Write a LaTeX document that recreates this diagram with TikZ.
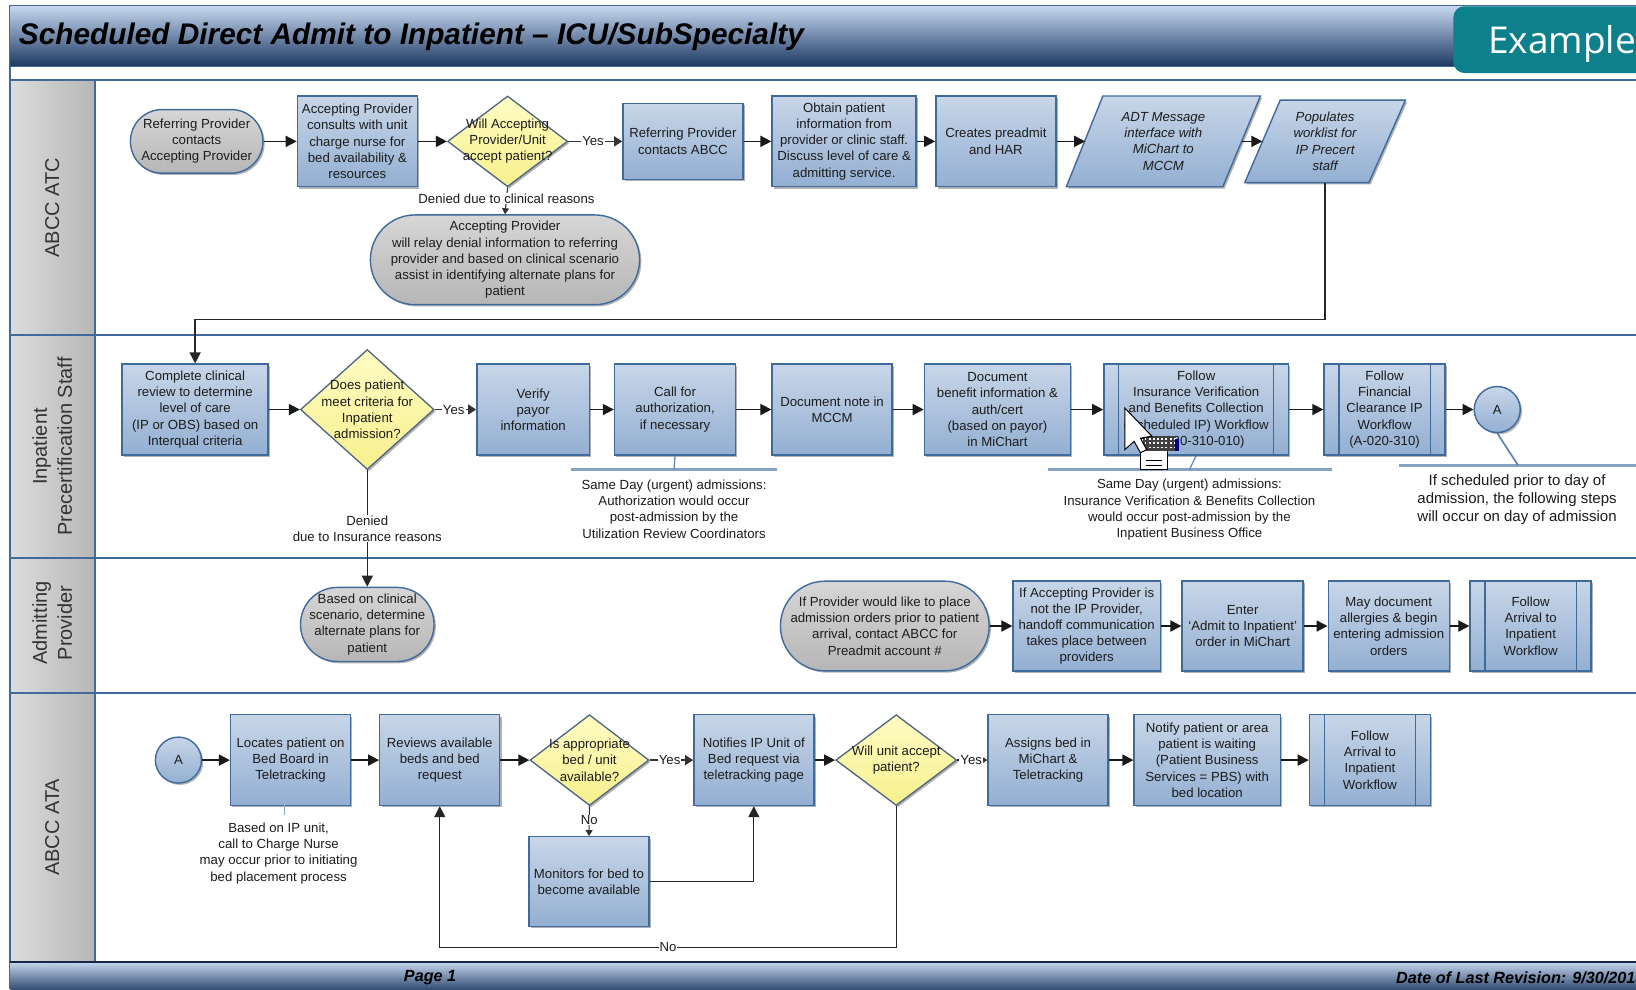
\documentclass[tikz,border=0pt]{standalone}
\usepackage{fontspec}
\setmainfont{Liberation Sans}
\newfontfamily\badgefont{Open Sans}
\usetikzlibrary{arrows.meta,shadows,shapes.geometric}
\definecolor{laneblue}{HTML}{3F6A9C}
\definecolor{boxT}{HTML}{C8D6E8}
\definecolor{boxB}{HTML}{93AFD2}
\definecolor{barT}{HTML}{C5D7EF}
\definecolor{barB}{HTML}{1E3A64}
\definecolor{grayT}{HTML}{D6D6D6}
\definecolor{grayB}{HTML}{B6B6B6}
\definecolor{yelT}{HTML}{FFFCC4}
\definecolor{yelB}{HTML}{F6F08C}
\definecolor{teal}{HTML}{0E808C}
\definecolor{inktext}{HTML}{1C1C1C}
\definecolor{annot}{HTML}{86A3C6}
\tikzset{
  shad/.style={drop shadow={shadow xshift=1.8pt,shadow yshift=-1.8pt,opacity=.3,fill=black}},
  txt/.style={font=\fontsize{13.2}{16.2}\selectfont,text=inktext,align=center,inner sep=0pt},
  bigtxt/.style={font=\fontsize{15}{17.8}\selectfont,text=inktext,align=center,inner sep=0pt},
  procbox/.style={shad,draw=laneblue,line width=1.4pt,top color=boxT,bottom color=boxB,txt,rectangle},
  stadbox/.style={shad,draw=laneblue,line width=1.4pt,top color=grayT,bottom color=grayB,txt,rectangle},
  diabox/.style={shad,draw=laneblue!70!black!85,line width=1.3pt,top color=yelT,bottom color=yelB,diamond,inner sep=0pt},
  circbox/.style={shad,draw=laneblue,line width=1.4pt,top color=boxT,bottom color=boxB,circle,txt},
  parabox/.style={shad,draw=laneblue,line width=1.4pt,top color=boxT,bottom color=boxB},
  flow/.style={draw=black!90,line width=1.7pt,-{Triangle[length=11pt,width=11pt]}},
  longflow/.style={draw=black!85,line width=1.3pt,-{Triangle[length=11pt,width=11pt]}},
  yesflow/.style={draw=black!80,line width=1.3pt,-{Triangle[length=8pt,width=10pt]}},
  tinyflow/.style={draw=black!80,line width=1.1pt,-{Triangle[length=6pt,width=7pt]}},
  lab/.style={txt,fill=white,inner xsep=1pt,inner ysep=0.5pt},
  annotline/.style={draw=annot,line width=2.4pt},
  annottick/.style={draw=laneblue!80,line width=1.3pt},
  lanehead/.style={font=\fontsize{20}{25}\selectfont,text=black!80,rotate=90,align=center,inner sep=0pt},
  laneline/.style={draw=laneblue,line width=2pt},
  barfont/.style={font=\fontsize{16.2}{18}\selectfont\bfseries\itshape,text=black,inner sep=0pt},
}
\newcommand{\procnode}[6]{%
  \pgfmathsetmacro\nw{(#4-#2)*1.0434}\pgfmathsetmacro\nh{(#5-#3)*1.0434}%
  \node[procbox,minimum width=\nw pt,minimum height=\nh pt] (#1) at ({(#2+#4)/2},{(#3+#5)/2}) {#6};}
\newcommand{\subnode}[6]{%
  \procnode{#1}{#2}{#3}{#4}{#5}{#6}%
  \draw[laneblue,line width=1.3pt] ([xshift=15.6pt]#1.north west) -- ([xshift=15.6pt]#1.south west)
    ([xshift=-15.6pt]#1.north east) -- ([xshift=-15.6pt]#1.south east);}
\newcommand{\stadnode}[6]{%
  \pgfmathsetmacro\nw{(#4-#2)*1.0434}\pgfmathsetmacro\nh{(#5-#3)*1.0434}\pgfmathsetmacro\nr{\nh/2-0.1}%
  \node[stadbox,rounded corners=\nr pt,minimum width=\nw pt,minimum height=\nh pt] (#1) at ({(#2+#4)/2},{(#3+#5)/2}) {#6};}
\newcommand{\dianode}[6]{%
  \pgfmathsetmacro\nw{(#4-#2)*1.0434}\pgfmathsetmacro\nh{(#5-#3)*1.0434}%
  \node[diabox,minimum width=\nw pt,minimum height=\nh pt] (#1) at ({(#2+#4)/2},{(#3+#5)/2}) {};
  \node[txt] (#1t) at (#1) {#6};}
\begin{document}
\begin{tikzpicture}[x=1.0434pt,y=-1.0434pt]
\path[use as bounding box,clip] (0,0) rectangle (1568,948);
\fill[white] (0,0) rectangle (1568,948);
% lane headers
\shade[left color=grayT!85!white,right color=grayB] (10,77) rectangle (91,921);
\draw[laneline] (91,77) -- (91,921);
\foreach \yy in {77,321,535,664} \draw[laneline] (10,\yy) -- (1568,\yy);
\draw[laneline] (10,5) -- (10,948);
% header and footer bars
\shade[top color=barT,bottom color=barB] (10,6) rectangle (1568,63);
\draw[laneblue,line width=1.5pt] (10,5.5) -- (1568,5.5) (10,63.5) -- (1568,63.5);
\shade[top color=barT,bottom color=barB!90!white] (10,922) rectangle (1568,948);
\draw[barB!70!black,line width=1.8pt] (10,922) -- (1568,922);
\node[anchor=west,font=\fontsize{29.8}{32}\selectfont\bfseries\itshape,text=black,inner sep=0pt] (title) at (18,35) {Scheduled Direct Admit to Inpatient – ICU/SubSpecialty};
\fill[teal,rounded corners=11pt] (1393,6) rectangle (1620,70);
\node[anchor=west,font=\fontsize{37}{40}\badgefont,text=white,inner sep=0pt] (badge) at (1426,42) {Example};
\node[barfont,anchor=west] (page) at (387,937) {Page 1};
\node[barfont,anchor=west] (date) at (1338,937) {Date of Last Revision: 9/30/2013};
% lane names
\node[lanehead] (l1) at (50,199) {ABCC ATC};
\node[lanehead] (l2) at (50,428) {Inpatient\\Precertification Staff};
\node[lanehead] (l3) at (50,597) {Admitting\\Provider};
\node[lanehead] (l4) at (50,793) {ABCC ATA};
% lane 1
\stadnode{s1}{125}{105}{252}{166}{Referring Provider\\contacts\\Accepting Provider}
\procnode{b2}{285}{92}{400}{179}{Accepting Provider\\consults with unit\\charge nurse for\\bed availability \&\\resources}
\dianode{d3}{429}{92}{544}{179}{Will Accepting\\Provider/Unit\\accept patient?}
\procnode{b4}{597}{99}{712}{172}{Referring Provider\\contacts ABCC}
\procnode{b5}{740}{92}{878}{179}{Obtain patient\\information from\\provider or clinic staff.\\Discuss level of care \&\\admitting service.}
\procnode{b6}{897}{92}{1012}{179}{Creates preadmit\\and HAR}
\path[parabox] (1057,92) -- (1208,92) -- (1172,179) -- (1022,179) -- cycle;
\node[txt,font=\fontsize{13.2}{16.2}\selectfont\itshape,minimum width=156pt,minimum height=90.8pt] (p7) at (1115,135.5) {ADT Message\\interface with\\MiChart to\\MCCM};
\path[parabox] (1227,96) -- (1347,96) -- (1312,175) -- (1193,175) -- cycle;
\node[txt,font=\fontsize{13.2}{16.2}\selectfont\itshape,minimum width=125pt,minimum height=82.4pt] (p8) at (1270,135.5) {Populates\\worklist for\\IP Precert\\staff};
\stadnode{s9}{355}{206}{613}{292}{Accepting Provider\\will relay denial information to referring\\provider and based on clinical scenario\\assist in identifying alternate plans for\\patient}
% lane 2
\procnode{b10}{117}{349}{257}{436}{Complete clinical\\review to determine\\level of care\\(IP or OBS) based on\\Interqual criteria}
\dianode{d11}{288}{335}{416}{450}{Does patient\\meet criteria for\\Inpatient\\admission?}
\procnode{b12}{457}{349}{565}{436}{Verify\\payor\\information}
\procnode{b13}{589}{349}{705}{436}{Call for\\authorization,\\if necessary}
\procnode{b14}{740}{349}{855}{436}{Document note in\\MCCM}
\procnode{b15}{886}{349}{1026}{436}{Document\\benefit information \&\\auth/cert\\(based on payor)\\in MiChart}
\subnode{b16}{1058}{349}{1235}{436}{Follow\\Insurance Verification\\and Benefits Collection\\(Scheduled IP) Workflow\\(A-020-310-010)}
\subnode{b17}{1269}{349}{1385}{436}{Follow\\Financial\\Clearance IP\\Workflow\\(A-020-310)}
\node[circbox,minimum size=46pt] (c18) at (1435,392.5) {A};
% lane 3
\stadnode{s19}{288}{563}{416}{634}{Based on clinical\\scenario, determine\\alternate plans for\\patient}
\stadnode{s20}{748}{557}{948}{643}{If Provider would like to place\\admission orders prior to patient\\arrival, contact ABCC for\\Preadmit account \#}
\procnode{b21}{971}{557}{1112}{643}{If Accepting Provider is\\not the IP Provider,\\handoff communication\\takes place between\\providers}
\procnode{b22}{1133}{557}{1249}{643}{Enter\\‘Admit to Inpatient’\\order in MiChart}
\procnode{b23}{1273}{557}{1389}{643}{May document\\allergies \& begin\\entering admission\\orders}
\subnode{b24}{1409}{557}{1525}{643}{Follow\\Arrival to\\Inpatient\\Workflow}
% lane 4
\node[circbox,minimum size=46pt] (c25) at (171,728.5) {A};
\procnode{b26}{221}{685}{336}{772}{Locates patient on\\Bed Board in\\Teletracking}
\procnode{b27}{364}{685}{479}{772}{Reviews available\\beds and bed\\request}
\dianode{d28}{508}{685}{622}{772}{Is appropriate\\bed / unit\\available?}
\procnode{b29}{665}{685}{780}{772}{Notifies IP Unit of\\Bed request via\\teletracking page}
\dianode{d30}{801}{685}{917}{772}{Will unit accept\\patient?}
\procnode{b31}{947}{685}{1062}{772}{Assigns bed in\\MiChart \&\\Teletracking}
\procnode{b32}{1087}{685}{1227}{772}{Notify patient or area\\patient is waiting\\(Patient Business\\Services = PBS) with\\bed location}
\subnode{b33}{1255}{685}{1371}{772}{Follow\\Arrival to\\Inpatient\\Workflow}
\procnode{b34}{507}{802}{622}{888}{Monitors for bed to\\become available}
% connectors lane 1
\draw[flow] (s1) -- (b2);
\draw[flow] (b2) -- (d3);
\draw[yesflow] (d3) -- node[lab,pos=.46]{Yes} (b4);
\draw[flow] (b4) -- (b5);
\draw[flow] (b5) -- (b6);
\draw[flow] (b6.east) -- (p7.west);
\draw[flow] (p7.east) -- (p8.west);
\draw[tinyflow] (d3.south) -- node[lab,pos=.42]{Denied due to clinical reasons} (s9.north);
\coordinate (bendA) at (1270,306);
\coordinate (bendB) at (187,306);
\draw[longflow] (p8.south) -- (bendA) -- (bendB) -- (b10.north);
% connectors lane 2
\draw[flow] (b10) -- (d11);
\draw[yesflow] (d11) -- node[lab,pos=.46]{Yes} (b12);
\draw[flow] (b12) -- (b13);
\draw[flow] (b13) -- (b14);
\draw[flow] (b14) -- (b15);
\draw[flow] (b15) -- (b16);
\draw[flow] (b16) -- (b17);
\draw[flow] (b17) -- (c18);
\draw[longflow] (d11.south) -- node[lab]{Denied\\due to Insurance reasons} (s19.north);
% connectors lane 3
\draw[flow] (s20) -- (b21);
\draw[flow] (b21) -- (b22);
\draw[flow] (b22) -- (b23);
\draw[flow] (b23) -- (b24);
% connectors lane 4
\draw[flow] (c25) -- (b26);
\draw[flow] (b26) -- (b27);
\draw[flow] (b27) -- (d28);
\draw[yesflow] (d28) -- node[lab,pos=.46]{Yes} (b29);
\draw[flow] (b29) -- (d30);
\draw[yesflow] (d30) -- node[lab,pos=.46]{Yes} (b31);
\draw[flow] (b31) -- (b32);
\draw[flow] (b32) -- (b33);
\draw[tinyflow] (d28.south) -- node[lab,pos=.47]{No} (b34.north);
\draw[longflow] (b34.east) -| (b29.south);
\coordinate (bendC) at (d30.south |- 0,908);
\coordinate (bendD) at (b27.south |- 0,908);
\draw[longflow] (d30.south) -- (bendC) -- node[lab]{No} (bendD) -- (b27.south);
% annotations
\coordinate (an13a) at (547,450); \coordinate (an13b) at (745,450); \coordinate (an13c) at (646,450);
\draw[annotline] (an13a) -- (an13b);
\draw[annottick] (b13.south) -- (an13c);
\node[txt] (n13) at (646,488) {Same Day (urgent) admissions:\\Authorization would occur\\post-admission by the\\Utilization Review Coordinators};
\coordinate (an16a) at (1004,450); \coordinate (an16b) at (1277,450); \coordinate (an16c) at (1140,450);
\draw[annotline] (an16a) -- (an16b);
\draw[annottick] (b16.south) -- (an16c);
\node[txt] (n16) at (1140,488.5) {Same Day (urgent) admissions:\\Insurance Verification \& Benefits Collection\\would occur post-admission by the\\Inpatient Business Office};
\coordinate (an18a) at (1341,446); \coordinate (an18b) at (1568,446); \coordinate (an18c) at (1455,446);
\draw[annotline] (an18a) -- (an18b);
\draw[laneblue!85,line width=1.6pt] (c18.south) -- (an18c);
\node[bigtxt] (n18) at (1454,479) {If scheduled prior to day of\\admission, the following steps\\will occur on day of admission};
\coordinate (an26) at (273,781);
\draw[annotline,line width=1.2pt] (273,772) -- (an26);
\node[txt] (n26) at (267,818) {Based on IP unit,\\call to Charge Nurse\\may occur prior to initiating\\bed placement process};
% mouse pointer
\fill[white,draw=black,line width=1pt] (1093,420) rectangle (1119,450);
\draw[black,line width=1pt] (1098,441) -- (1114,441) (1098,446) -- (1114,446);
\fill[black!75] (1095,418) rectangle (1127,432);
\foreach \xx in {1097,1101,...,1125} \foreach \yy in {420,424,428} \fill[white] (\xx,\yy) rectangle +(1.8,1.8);
\fill[blue!55!black] (1126,421) rectangle (1130,432);
\fill[white,draw=black,line width=1pt] (1078,391) -- (1078,431) -- (1087,423) -- (1093,434) -- (1099,431) -- (1093,420) -- (1104,418) -- cycle;
\end{tikzpicture}
\end{document}
